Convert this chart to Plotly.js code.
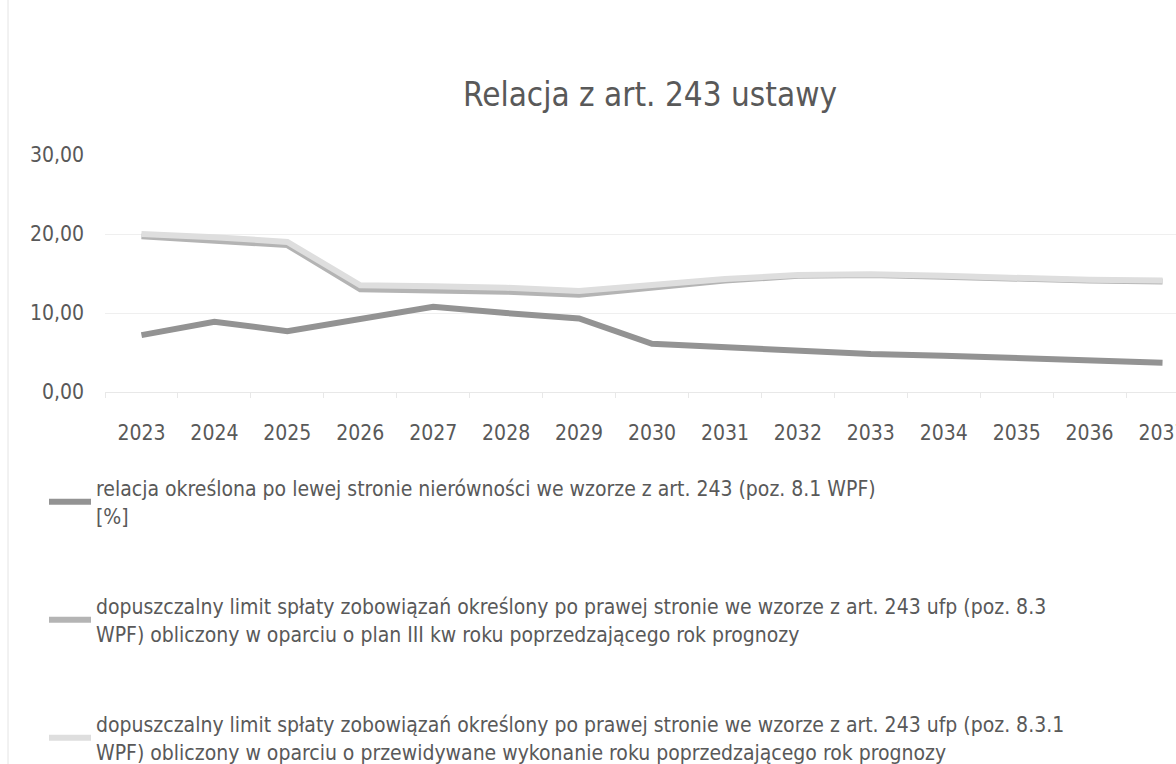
<!DOCTYPE html>
<html>
<head>
<meta charset="utf-8">
<script src="https://cdn.plot.ly/plotly-3.0.1.min.js"></script>
<style>
html,body{margin:0;padding:0;overflow:hidden;background:#fff;width:1176px;height:764px;}
#chart{width:1208px;height:764px;}
</style>
</head>
<body>
<div id="chart"></div>
<script>
const years = ["2023","2024","2025","2026","2027","2028","2029","2030","2031","2032","2033","2034","2035","2036","2037"];
const relacja = [7.2, 8.9, 7.7, 9.3, 10.8, 10.0, 9.3, 6.1, 5.7, 5.2, 4.8, 4.6, 4.3, 3.9, 3.7];
const limitPlan = [19.7, 19.2, 18.6, 13.0, 12.9, 12.7, 12.3, 13.2, 14.1, 14.7, 14.8, 14.6, 14.3, 14.1, 14.0];
const limitWykonanie = [20.0, 19.6, 19.0, 13.5, 13.4, 13.2, 12.8, 13.5, 14.3, 14.8, 14.9, 14.7, 14.4, 14.2, 14.1];
const names = [
  "relacja określona po lewej stronie nierówności we wzorze z art. 243 (poz. 8.1 WPF)<br>[%]",
  "dopuszczalny limit spłaty zobowiązań określony po prawej stronie we wzorze z art. 243 ufp (poz. 8.3<br>WPF) obliczony w oparciu o plan III kw roku poprzedzającego rok prognozy",
  "dopuszczalny limit spłaty zobowiązań określony po prawej stronie we wzorze z art. 243 ufp (poz. 8.3.1<br>WPF) obliczony w oparciu o przewidywane wykonanie roku poprzedzającego rok prognozy"
];
const yTicks = [0, 10, 20, 30];

const FONT = '"Liberation Sans Narrow", "DejaVu Sans Condensed", "Open Sans", sans-serif';
const W = 1208, H = 764, L = 105, R = 9, T = 155, B = 372;

const traces = [
  {x: years, y: relacja, name: names[0], legend: "legend", type: "scatter", mode: "lines",
   line: {color: "#939393", width: 6}},
  {x: years, y: limitPlan, name: names[1], legend: "legend2", type: "scatter", mode: "lines",
   line: {color: "#b4b4b4", width: 6}},
  {x: years, y: limitWykonanie, name: names[2], legend: "legend3", type: "scatter", mode: "lines",
   line: {color: "#dedede", width: 6}}
];

function leg(topPx) {
  return {orientation: "v", xref: "container", yref: "container", x: 44 / W, y: 1 - topPx / H,
          xanchor: "left", yanchor: "top",
          font: {family: FONT, size: 21, color: "#595959"}, bgcolor: "rgba(0,0,0,0)", itemwidth: 42};
}

const pw = W - L - R;
const layout = {
  width: W, height: H,
  margin: {l: L, r: R, t: T, b: B, autoexpand: false},
  paper_bgcolor: "#ffffff", plot_bgcolor: "#ffffff",
  separators: ", ",
  font: {family: FONT, color: "#595959", size: 20},
  title: {text: "Relacja z art. 243 ustawy", font: {family: FONT, size: 33, color: "#595959"},
          xref: "container", yref: "container", x: 650 / W, y: 1 - 94 / H, xanchor: "center", yanchor: "middle"},
  xaxis: {type: "category", range: [-0.5, 14.5], showgrid: false, zeroline: false,
          showline: true, linecolor: "#e8e8e8", linewidth: 1, tickangle: 0, automargin: false,
          ticks: "outside", tickson: "boundaries", ticklen: 5, tickcolor: "#e8e8e8",
          ticklabelstandoff: 22, tickfont: {size: 21, color: "#595959"}},
  yaxis: {range: [0, 30], tickvals: yTicks, tickformat: ".2f", showgrid: true, gridcolor: "#efefef",
          zeroline: false, showline: false, ticks: "", ticklabelstandoff: 20, automargin: false,
          tickfont: {size: 21, color: "#595959"}},
  showlegend: true,
  legend: leg(468),
  legend2: leg(586),
  legend3: leg(704),
  shapes: [{type: "line", xref: "paper", yref: "paper", x0: (8 - L) / pw, x1: (8 - L) / pw,
            y0: -B / (H - T - B), y1: (H - B) / (H - T - B), line: {color: "#e4e4e4", width: 1}}]
};

Plotly.newPlot("chart", traces, layout, {displayModeBar: false, staticPlot: true});
</script>
</body>
</html>
